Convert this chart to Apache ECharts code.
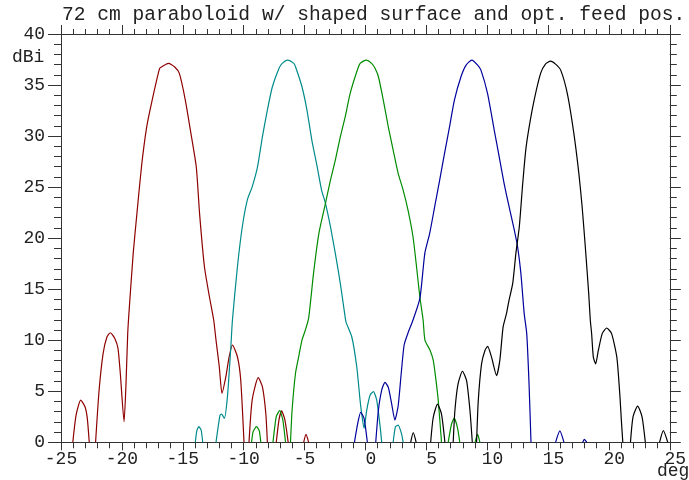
<!DOCTYPE html>
<html>
<head>
<meta charset="utf-8">
<script src="https://cdn.jsdelivr.net/npm/echarts@6/dist/echarts.min.js"></script>
<style>
html,body{margin:0;padding:0;background:#fff;}
#c{width:689px;height:480px;}
</style>
</head>
<body>
<div id="c"></div>
<script>
const titleText = '72 cm paraboloid w/ shaped surface and opt. feed pos.';
const yUnit = 'dBi';
const xUnit = 'deg';
const xRange = [-25, 25];
const yRange = [0, 40];

// Each beam: list of lobes, each lobe: [deg, dBi] pairs (values below 0 dBi are clipped)
const redBeam = [
 [[-24.03,0],[-23.76,2.67],[-23.38,4.14],[-23.03,3.49],[-22.84,2.35],[-22.68,0]],
 [[-22.16,0],[-21.87,5.12],[-21.54,8.72],[-21.22,10.34],[-20.94,10.73],[-20.59,10.19],[-20.32,9.21],[-20.13,6.76],[-19.82,2.02],[-19.66,5.78],[-19.52,10.68],[-19.40,13.0],[-19.07,18.51],[-18.79,22.10],[-18.39,26.99],[-17.98,30.75],[-17.57,33.20],[-16.90,36.63],[-16.63,36.86],[-16.17,37.12],[-15.68,36.79],[-15.28,36.14],[-14.79,33.53],[-14.33,30.26],[-13.89,26.99],[-13.62,22.43],[-13.22,17.20],[-12.81,14.26],[-12.46,11.98],[-12.27,10.02],[-12.00,7.40],[-11.78,4.80],[-11.46,6.43],[-11.19,8.38],[-10.92,9.53],[-10.51,8.38],[-10.24,6.10],[-9.97,0]],
 [[-9.56,0],[-9.30,4.14],[-8.80,6.33],[-8.46,5.45],[-8.18,2.84],[-8.05,0]],
 [[-7.32,0],[-7.10,2.18],[-6.88,3.07],[-6.61,2.18],[-6.34,0]],
 [[-5.07,0],[-4.88,0.78],[-4.66,0]]
];
const tealBeam = [
 [[-13.97,0],[-13.84,1.14],[-13.68,1.53],[-13.49,1.20],[-13.36,0]],
 [[-12.27,0],[-11.94,2.67],[-11.81,2.77],[-11.59,2.35],[-11.33,4.47],[-11.05,9.36],[-10.92,11.98],[-10.51,17.20],[-10.11,21.12],[-9.70,23.73],[-9.30,25.03],[-8.86,26.99],[-8.46,29.93],[-8.05,32.55],[-7.64,34.83],[-7.10,36.63],[-6.83,37.12],[-6.39,37.44],[-5.88,37.12],[-5.74,36.79],[-5.21,34.83],[-4.80,32.55],[-4.40,29.61],[-3.96,26.99],[-3.60,24.71],[-3.28,23.41],[-2.87,21.12],[-2.47,18.51],[-2.06,15.57],[-1.71,12.66],[-1.59,11.78],[-1.12,10.34],[-0.71,7.40],[-0.44,4.14],[-0.31,2.84],[-0.11,1.37],[0.11,3.16],[0.39,4.63],[0.66,4.96],[0.93,4.14],[1.21,1.53],[1.34,0]],
 [[2.28,0],[2.47,1.53],[2.69,1.69],[2.96,0.88],[3.10,0]]
];
const greenBeam = [
 [[-9.35,0],[-9.22,1.04],[-8.94,1.53],[-8.72,1.14],[-8.59,0]],
 [[-7.59,0],[-7.32,2.51],[-7.04,3.10],[-6.78,2.18],[-6.56,0]],
 [[-6.15,0],[-6.02,3.16],[-5.74,6.76],[-5.48,8.38],[-5.21,10.02],[-4.93,11.00],[-4.66,12.17],[-4.26,16.55],[-3.82,20.47],[-3.28,23.41],[-2.87,25.69],[-2.47,27.65],[-2.06,29.93],[-1.66,31.89],[-1.25,34.18],[-0.71,36.30],[-0.43,37.12],[0.06,37.44],[0.51,37.12],[0.80,36.63],[1.07,35.81],[1.47,33.53],[1.88,30.91],[2.28,28.63],[2.69,26.35],[3.10,24.71],[3.50,22.75],[3.91,20.14],[4.20,17.20],[4.47,14.26],[4.74,11.98],[4.89,10.02],[5.30,9.04],[5.57,8.06],[5.76,6.43],[5.98,4.14],[6.25,0]],
 [[6.80,0],[7.07,1.77],[7.29,2.36],[7.56,1.44],[7.75,0]],
 [[9.00,0],[9.22,0.78],[9.40,0]]
];
const blueBeam = [
 [[-0.90,0],[-0.63,1.86],[-0.39,2.94],[-0.11,2.35],[0.16,0]],
 [[0.85,0],[1.07,3.16],[1.34,5.12],[1.61,5.88],[1.88,5.39],[2.15,3.82],[2.42,2.18],[2.69,3.56],[2.93,6.59],[3.18,9.53],[3.50,10.71],[3.91,11.98],[4.48,14.13],[4.88,18.51],[5.28,20.47],[5.69,23.08],[6.10,25.69],[6.50,28.31],[6.91,30.91],[7.31,33.53],[7.85,35.81],[8.27,36.95],[8.74,37.44],[9.22,36.95],[9.49,36.46],[10.03,34.18],[10.58,30.59],[10.99,27.97],[11.39,25.37],[11.80,23.08],[12.23,20.79],[12.50,19.16],[12.77,16.55],[13.04,12.63],[13.25,10.65],[13.44,5.72],[13.60,0]],
 [[15.62,0],[15.97,1.12],[16.31,0]],
 [[17.85,0],[17.98,0.29],[18.18,0]]
];
const blackBeam = [
 [[3.72,0],[3.93,0.94],[4.17,0]],
 [[5.36,0],[5.57,2.43],[5.92,3.74],[6.25,2.76],[6.53,0]],
 [[7.21,0],[7.35,3.09],[7.61,5.72],[7.97,6.96],[8.31,6.04],[8.59,3.09],[8.78,0]],
 [[9.13,0],[9.27,4.07],[9.54,7.69],[9.82,9.0],[10.04,9.40],[10.36,8.34],[10.77,6.54],[11.04,8.02],[11.31,11.30],[11.59,12.62],[11.80,13.94],[12.10,15.57],[12.36,18.51],[12.64,21.12],[12.91,25.2],[13.17,28.63],[13.45,30.91],[13.86,33.53],[14.39,36.14],[14.80,37.08],[15.20,37.34],[15.62,37.05],[16.04,36.46],[16.58,34.18],[17.12,30.26],[17.53,26.35],[17.80,23.08],[18.06,19.16],[18.34,14.59],[18.47,11.98],[18.58,10.65],[18.72,8.34],[18.91,7.69],[19.13,9.0],[19.45,10.65],[19.81,11.20],[20.22,10.65],[20.65,8.34],[20.90,4.6],[21.03,2.0],[21.14,0]],
 [[21.77,0],[21.98,2.5],[22.36,3.55],[22.72,2.5],[22.99,0]],
 [[24.16,0],[24.47,1.14],[24.83,0]]
];

const beams = [
 {name:'beam 1', lobes: redBeam,   color:'#8e0000'},
 {name:'beam 2', lobes: tealBeam,  color:'#008b8b'},
 {name:'beam 3', lobes: greenBeam, color:'#008c00'},
 {name:'beam 4', lobes: blueBeam,  color:'#00009c'},
 {name:'beam 5', lobes: blackBeam, color:'#000000'}
];

function joinLobes(lobes){
  const out = [];
  lobes.forEach((l, i) => {
    if (i > 0) out.push(['-', '-']);
    l.forEach(p => out.push(p));
  });
  return out;
}

const FONT = 'Liberation Mono';
const axisCol = '#333';
const chart = echarts.init(document.getElementById('c'), null, {renderer:'canvas'});
chart.setOption({
  animation: false,
  backgroundColor: '#fff',
  grid: {left: 61, right: 15.5, top: 34, bottom: 37.7, containLabel: false},
  xAxis: [
    {type:'value', position:'bottom', min:xRange[0], max:xRange[1], interval:5,
     axisLine:{show:true, onZero:false, lineStyle:{color:axisCol, width:1}},
     axisTick:{show:true, inside:false, length:8, lineStyle:{color:axisCol}},
     minorTick:{show:true, splitNumber:5, length:6, lineStyle:{color:axisCol}},
     splitLine:{show:false},
     axisLabel:{show:true, margin:8, color:'#222', fontFamily:FONT, fontSize:18,
       showMinLabel:true, showMaxLabel:true,
       formatter: v => (v < 0 ? String(v) : ' ' + v)}},
    {type:'value', position:'top', min:xRange[0], max:xRange[1], interval:5,
     axisLine:{show:true, onZero:false, lineStyle:{color:axisCol, width:1}},
     axisTick:{show:true, inside:false, length:9, lineStyle:{color:axisCol}},
     minorTick:{show:true, splitNumber:5, length:5, lineStyle:{color:axisCol}},
     splitLine:{show:false}, axisLabel:{show:false}}
  ],
  yAxis: [
    {type:'value', position:'left', min:yRange[0], max:yRange[1], interval:5,
     axisLine:{show:true, onZero:false, lineStyle:{color:axisCol, width:1}},
     axisTick:{show:true, inside:false, length:13, lineStyle:{color:axisCol}},
     minorTick:{show:true, splitNumber:5, length:7, lineStyle:{color:axisCol}},
     splitLine:{show:false},
     axisLabel:{show:true, margin:16, color:'#222', fontFamily:FONT, fontSize:18}},
    {type:'value', position:'right', min:yRange[0], max:yRange[1], interval:5,
     axisLine:{show:true, onZero:false, lineStyle:{color:axisCol, width:1}},
     axisTick:{show:true, inside:false, length:11, lineStyle:{color:axisCol}},
     minorTick:{show:true, splitNumber:5, length:7, lineStyle:{color:axisCol}},
     splitLine:{show:false}, axisLabel:{show:false}}
  ],
  graphic: [
    {type:'text', left:62, top:5, style:{text:titleText, font:'19.6px "Liberation Mono"', fill:'#222'}},
    {type:'text', left:12, top:48, style:{text:yUnit, font:'18px "Liberation Mono"', fill:'#222'}},
    {type:'text', left:657, top:462, style:{text:xUnit, font:'18px "Liberation Mono"', fill:'#222'}}
  ],
  series: beams.map(b => ({
    name: b.name, type:'line', xAxisIndex:0, yAxisIndex:0,
    data: joinLobes(b.lobes), showSymbol:false, symbol:'none',
    clip:true, connectNulls:false, smooth:0.2,
    lineStyle:{color:b.color, width:1.2}, z:2
  }))
});
</script>
</body>
</html>
